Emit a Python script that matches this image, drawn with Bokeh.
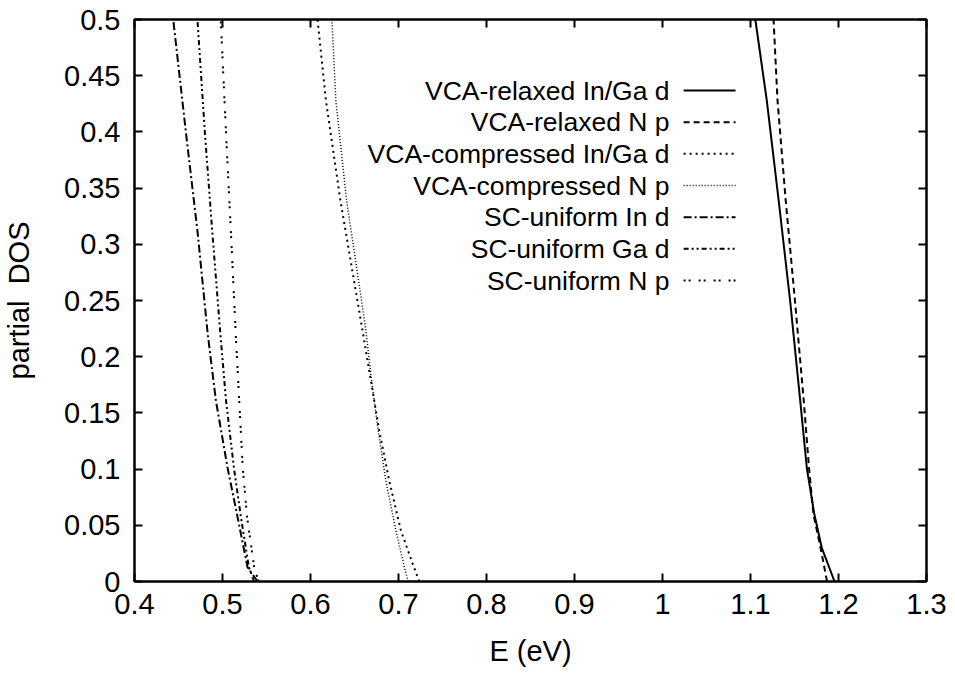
from bokeh.plotting import figure
from bokeh.models import Range1d, LinearAxis, FixedTicker, ColumnDataSource
from bokeh.core.properties import value
from bokeh.embed import file_html
from bokeh.resources import INLINE

# ---------------- data ----------------
vca_rel_d_dos = [0.0, 0.03, 0.06, 0.101, 0.161, 0.25, 0.339, 0.428, 0.5]
vca_rel_d_E   = [1.1955, 1.181, 1.1725, 1.164, 1.1565, 1.145, 1.132, 1.1185, 1.1055]

vca_rel_p_dos = [0.0, 0.03, 0.06, 0.101, 0.161, 0.25, 0.339, 0.428, 0.5]
vca_rel_p_E   = [1.187, 1.1796, 1.1715, 1.1665, 1.1605, 1.1505, 1.140, 1.1307, 1.1262]

vca_comp_d_dos = [0.0, 0.016, 0.0454, 0.0899, 0.1343, 0.1788, 0.2233, 0.2633, 0.339, 0.428, 0.5]
vca_comp_d_E   = [0.7236, 0.716, 0.7027, 0.6894, 0.6781, 0.6686, 0.6591, 0.6504, 0.634, 0.6175, 0.608]

vca_comp_p_dos = [0.0, 0.016, 0.0454, 0.0899, 0.1343, 0.1788, 0.2233, 0.2633, 0.339, 0.428, 0.5]
vca_comp_p_E   = [0.7109, 0.7057, 0.697, 0.6856, 0.6769, 0.6694, 0.6629, 0.6555, 0.641, 0.6288, 0.6243]

sc_in_d_dos = [0.0, 0.0125, 0.057, 0.101, 0.161, 0.221, 0.310, 0.399, 0.5]
sc_in_d_E   = [0.540, 0.5285, 0.5172, 0.5058, 0.4925, 0.4831, 0.4718, 0.4585, 0.444]

sc_ga_d_dos = [0.0, 0.0125, 0.057, 0.101, 0.161, 0.221, 0.310, 0.399, 0.5]
sc_ga_d_E   = [0.536, 0.530, 0.521, 0.513, 0.504, 0.4975, 0.4885, 0.480, 0.4715]

sc_n_p_dos = [0.0, 0.0125, 0.057, 0.101, 0.161, 0.221, 0.310, 0.399, 0.5]
sc_n_p_E   = [0.541, 0.536, 0.528, 0.523, 0.519, 0.515, 0.5096, 0.504, 0.498]

series_labels = ["VCA-relaxed In/Ga d", "VCA-relaxed N p", "VCA-compressed In/Ga d",
                 "VCA-compressed N p", "SC-uniform In d", "SC-uniform Ga d", "SC-uniform N p"]

x_ticks = [0.4, 0.5, 0.6, 0.7, 0.8, 0.9, 1.0, 1.1, 1.2, 1.3]
y_ticks = [0, 0.05, 0.1, 0.15, 0.2, 0.25, 0.3, 0.35, 0.4, 0.45, 0.5]

# ---------------- styles ----------------
styles = [
    dict(line_dash="solid", line_width=2),
    dict(line_dash="6 4", line_width=2),
    dict(line_dash="2 4", line_width=2),
    dict(line_dash="1 2", line_width=1.5),
    dict(line_dash="8 3 2 3", line_width=2),
    dict(line_dash="5 3 2 3 2 3", line_width=2),
    dict(line_dash="2 3 2 8", line_width=2),
]
series = [
    (vca_rel_d_E, vca_rel_d_dos), (vca_rel_p_E, vca_rel_p_dos),
    (vca_comp_d_E, vca_comp_d_dos), (vca_comp_p_E, vca_comp_p_dos),
    (sc_in_d_E, sc_in_d_dos), (sc_ga_d_E, sc_ga_d_dos), (sc_n_p_E, sc_n_p_dos),
]

FONT = "Liberation Sans"
TICK_FS = "29px"
LEG_FS = "26.5px"

p = figure(width=955, height=677, output_backend="svg", toolbar_location=None,
           x_range=Range1d(0.4, 1.3), y_range=Range1d(0, 0.5),
           min_border_left=133, min_border_right=29, min_border_top=19, min_border_bottom=96)
p.xgrid.visible = False
p.ygrid.visible = False
p.outline_line_color = "black"
p.outline_line_width = 2
p.background_fill_color = "white"
p.border_fill_color = "white"

def style_axis(ax, labels=True):
    ax.axis_line_color = "black"
    ax.axis_line_width = 2
    ax.major_tick_in = 8
    ax.major_tick_out = 0
    ax.major_tick_line_width = 2
    ax.minor_tick_line_color = None
    if labels:
        ax.major_label_text_font = FONT
        ax.major_label_text_font_size = TICK_FS
        ax.major_label_text_color = "black"
        ax.axis_label_text_font = FONT
        ax.axis_label_text_font_size = TICK_FS
        ax.axis_label_text_font_style = "normal"
        ax.axis_label_text_color = "black"
    else:
        ax.major_label_text_font_size = "0px"
        ax.major_label_standoff = 0

p.xaxis.ticker = FixedTicker(ticks=x_ticks)
p.yaxis.ticker = FixedTicker(ticks=y_ticks)
p.xaxis.major_label_overrides = {t: ("1" if t == 1.0 else f"{t:g}") for t in x_ticks}
p.yaxis.major_label_overrides = {t: f"{t:g}" for t in y_ticks}
p.xaxis.axis_label = "E (eV)"
p.yaxis.axis_label = "partial\u00a0 DOS"
style_axis(p.xaxis[0])
style_axis(p.yaxis[0])
p.xaxis.major_label_standoff = 12
p.yaxis.major_label_standoff = 14
p.xaxis.axis_label_standoff = 18
p.yaxis.axis_label_standoff = 26

top_ax = LinearAxis(ticker=FixedTicker(ticks=x_ticks))
right_ax = LinearAxis(ticker=FixedTicker(ticks=y_ticks))
style_axis(top_ax, labels=False)
style_axis(right_ax, labels=False)
p.add_layout(top_ax, "above")
p.add_layout(right_ax, "right")

for (xs, ys), st in zip(series, styles):
    p.line(xs, ys, line_color="black", line_join="round", **st)

# ---------------- legend (text left, sample right) ----------------
leg_text_x = 1.008
leg_line_x0 = 1.024
leg_line_x1 = 1.083
leg_y0 = 0.4368
leg_dy = 0.02817
leg_ys = [leg_y0 - i * leg_dy for i in range(len(series_labels))]
src = ColumnDataSource(dict(x=[leg_text_x] * len(series_labels), y=leg_ys, t=series_labels))
p.text(x="x", y="y", text="t", source=src, text_align="right", text_baseline="middle",
       text_font=value(FONT), text_font_size=value(LEG_FS), text_color="black")
for yy, st in zip(leg_ys, styles):
    p.segment(x0=[leg_line_x0], y0=[yy], x1=[leg_line_x1], y1=[yy], line_color="black", **st)

open("out.html", "w").write(file_html(p, INLINE))
